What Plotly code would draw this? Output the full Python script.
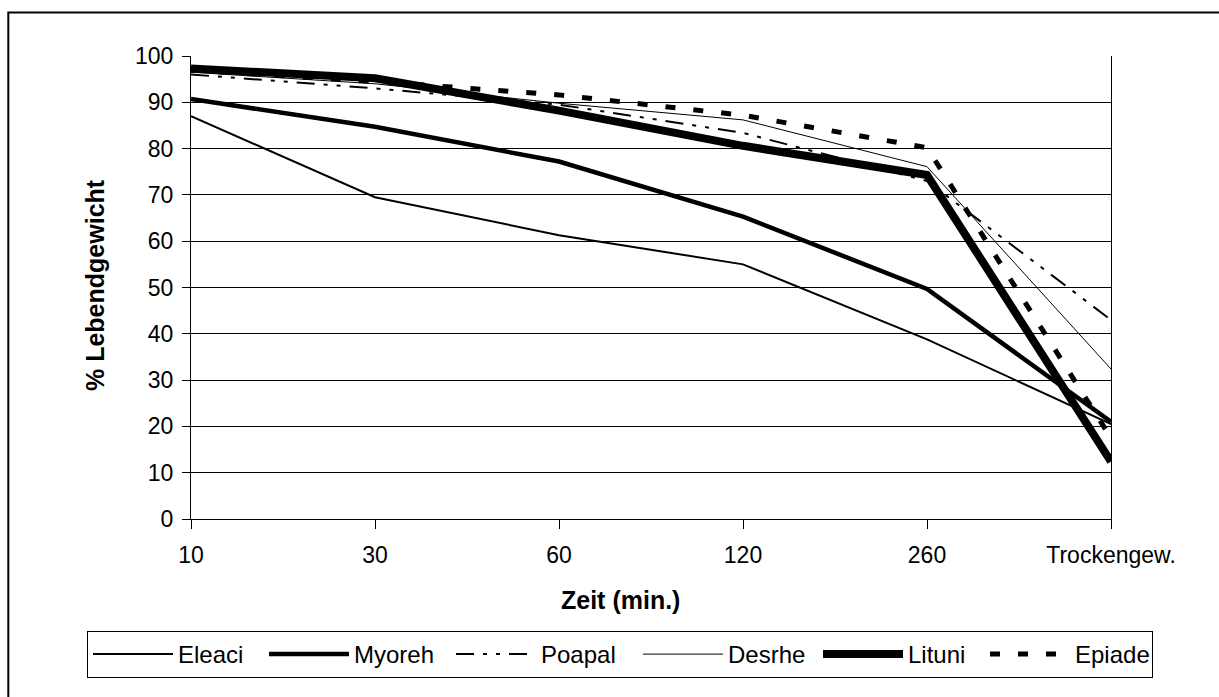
import plotly.graph_objects as go

# Sampling times (minutes) plus dry weight
categories = ["10", "30", "60", "120", "260", "Trockengew."]

# % of live weight per species
eleaci = [87.0, 69.5, 61.3, 55.0, 38.8, 20.5]
myoreh = [90.7, 84.7, 77.2, 65.3, 49.7, 21.0]
poapal = [96.0, 93.0, 89.5, 83.4, 73.0, 43.0]
desrhe = [96.5, 94.0, 89.8, 86.2, 76.1, 32.4]
lituni = [97.3, 95.2, 88.2, 80.6, 74.3, 12.4]
epiade = [97.0, 94.5, 91.6, 87.2, 80.2, 17.5]

y_ticks = list(range(0, 101, 10))

FONT = "Arial, Liberation Sans, sans-serif"

# name, values, line width, dash pattern, legend entry width (px)
series = [
    ("Eleaci", eleaci, 2, "solid", 81),
    ("Myoreh", myoreh, 4.5, "solid", 92),
    ("Poapal", poapal, 2, "18px,9px,4px,9px,4px,9px", 92),
    ("Desrhe", desrhe, 1, "solid", 85),
    ("Lituni", lituni, 8, "solid", 72),
    ("Epiade", epiade, 5, "10px,18px", 72),
]

fig = go.Figure()
for name, vals, width, dash, lw in series:
    fig.add_trace(go.Scatter(
        x=categories, y=vals, name=name, mode="lines",
        line=dict(color="black", width=width, dash=dash),
        legendwidth=lw,
    ))

W, H = 1219, 697
L, R, T, B = 191, 108, 56, 178
pw, ph = W - L - R, H - T - B


def px_x(x):
    return (x - L) / pw


def px_y(y):
    return (H - B - y) / ph


fig.update_layout(
    width=W, height=H,
    margin=dict(l=L, r=R, t=T, b=B, autoexpand=False),
    paper_bgcolor="white", plot_bgcolor="white",
    font=dict(family=FONT, size=23, color="black"),
    xaxis=dict(
        type="category", range=[0, 5],
        showgrid=False, showline=True, linecolor="black", linewidth=1,
        ticks="outside", ticklen=9, tickcolor="black", tickwidth=1,
        tickfont=dict(size=23), ticklabelstandoff=6,
    ),
    yaxis=dict(
        range=[0, 100], tickvals=y_ticks,
        showgrid=True, gridcolor="black", gridwidth=1, zeroline=False,
        showline=True, linecolor="black", linewidth=1, mirror=True,
        ticks="outside", ticklen=8, tickcolor="black", tickwidth=1,
        tickfont=dict(size=23), ticklabelstandoff=4,
    ),
    legend=dict(
        orientation="h",
        x=px_x(87), xanchor="left",
        y=px_y(631), yanchor="top",
        bordercolor="black", borderwidth=1, bgcolor="white",
        font=dict(size=24), itemwidth=80, tracegroupgap=0,
    ),
    showlegend=True,
    annotations=[
        dict(text="<b>% Lebendgewicht</b>", textangle=-90,
             x=px_x(95), y=px_y(285), xref="paper", yref="paper",
             xanchor="center", yanchor="middle",
             showarrow=False, font=dict(size=25)),
        dict(text="<b>Zeit (min.)</b>",
             x=px_x(620), y=px_y(600), xref="paper", yref="paper",
             xanchor="center", yanchor="middle",
             showarrow=False, font=dict(size=25)),
    ],
    shapes=[
        dict(type="rect", xref="paper", yref="paper",
             x0=px_x(8.3), x1=px_x(1240), y0=px_y(720), y1=px_y(12.5),
             line=dict(color="black", width=2), layer="above"),
    ],
)

fig.write_html("out.html")
